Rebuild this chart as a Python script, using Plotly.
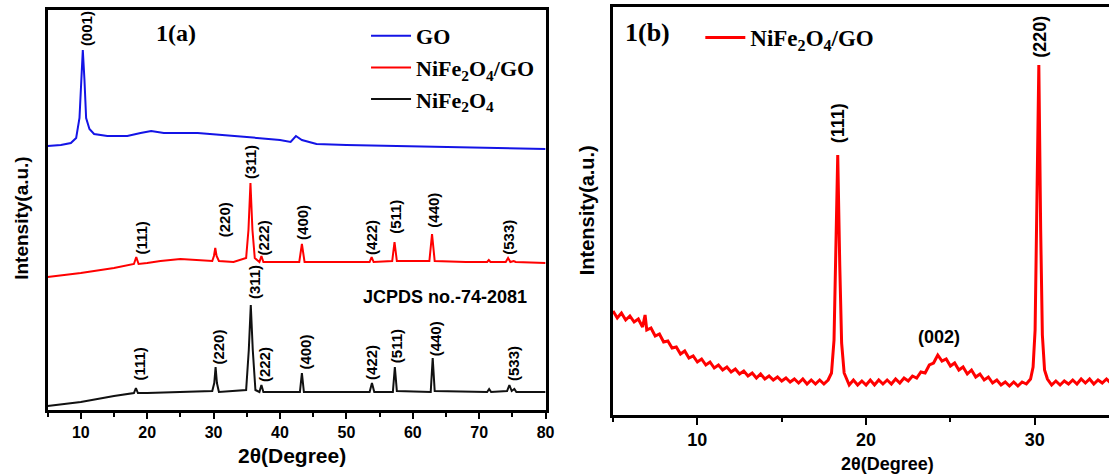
import plotly.graph_objects as go

W, H = 1118, 476

# ---------------- Panel (a) data ----------------
go_x = [5, 7, 8.5, 9.3, 9.8, 10.05, 10.3, 10.55, 10.8, 11.3, 12, 14, 17, 19, 20.6, 22.5, 27.6, 35, 40, 41.6, 42.4, 43.3, 45.5, 50, 57.5, 65, 72, 80]
go_y = [264, 265, 267, 272, 292, 330, 360, 330, 292, 281, 276, 274, 274, 277, 279, 277, 277, 273, 270, 268, 274, 270, 266, 265, 264, 263, 262, 261]

nfgo_x = [5, 10, 15, 18.0, 18.35, 18.7, 20, 22, 25, 28, 29.8, 30.05, 30.25, 30.45, 30.8, 33, 34.9, 35.25, 35.55, 35.85, 36.2, 36.9, 37.2, 37.5, 40, 42.9, 43.3, 43.7, 46, 50, 53.5, 53.8, 54.1, 56.9, 57.25, 57.6, 62.5, 62.9, 63.3, 68, 71.2, 71.45, 71.7, 74.0, 74.35, 74.7, 75.2, 75.5, 80]
nfgo_y = [133, 137, 142, 146, 153, 146, 147, 149, 151, 150, 149, 154, 162, 154, 149, 148, 152, 180, 227, 180, 152, 148, 154, 148, 148, 148, 166, 148, 148, 148, 148, 153, 148, 149, 168, 149, 149, 176, 149, 148, 148, 150, 148, 148, 152, 148, 149, 148, 147]

nf_x = [5, 10, 15, 18.0, 18.3, 18.6, 20, 25, 29.8, 30.1, 30.3, 30.5, 30.8, 34.9, 35.3, 35.6, 35.9, 36.3, 36.9, 37.2, 37.5, 43.0, 43.3, 43.6, 53.5, 53.85, 54.2, 57.0, 57.3, 57.6, 62.7, 63.0, 63.3, 71.2, 71.5, 71.8, 74.2, 74.55, 74.9, 75.3, 75.6, 80]
nf_y = [4, 8, 14, 17, 22, 17, 17, 18, 19, 27, 43, 27, 18, 20, 60, 105, 60, 20, 18, 25, 18, 18, 37, 18, 18, 27, 18, 18, 43, 19, 18, 52, 19, 18, 21, 18, 19, 25, 19, 21, 18, 18]

hkl_labels = ["(111)", "(220)", "(311)", "(222)", "(400)", "(422)", "(511)", "(440)", "(533)"]
nfgo_lbl_x = [19.0, 31.6, 35.5, 37.5, 43.3, 53.7, 57.3, 63.0, 74.3]
nfgo_lbl_y = [172, 190, 248, 172, 188, 173, 193, 200, 173]
nf_lbl_x = [18.7, 30.6, 36.1, 37.6, 43.7, 53.7, 57.5, 63.4, 75.1]
nf_lbl_y = [46, 63, 128, 45, 58, 48, 64, 71, 46]
go_lbl = ["(001)"]
go_lbl_x = [10.8]
go_lbl_y = [381]

# ---------------- Panel (b) data ----------------
b_x = [5.0, 5.25, 5.5, 5.75, 6.0, 6.25, 6.5, 6.75, 6.9, 7.0, 7.25, 7.5, 7.75, 8.0, 8.25, 8.5, 8.75, 9.0, 9.25, 9.5, 9.75,
       10.0, 10.25, 10.5, 10.75, 11.0, 11.25, 11.5, 11.75, 12.0, 12.25, 12.5, 12.75, 13.0, 13.25, 13.5, 13.75,
       14.0, 14.25, 14.5, 14.75, 15.0, 15.25, 15.5, 15.75, 16.0, 16.25, 16.5, 16.75, 17.0, 17.25, 17.5, 17.75,
       17.95, 18.1, 18.2, 18.32, 18.44, 18.55, 18.7, 18.85,
       19.0, 19.25, 19.5, 19.75, 20.0, 20.25, 20.5, 20.75, 21.0, 21.25, 21.5, 21.75, 22.0, 22.25, 22.5, 22.75,
       23.0, 23.25, 23.5, 23.75, 24.0, 24.25, 24.5, 24.75, 25.0, 25.25, 25.5, 25.75, 26.0, 26.25, 26.5, 26.75,
       27.0, 27.25, 27.5, 27.75, 28.0, 28.25, 28.5, 28.75, 29.0, 29.25, 29.5, 29.75,
       29.9, 30.02, 30.12, 30.24, 30.35, 30.45, 30.58, 30.75,
       31.0, 31.25, 31.5, 31.75, 32.0, 32.25, 32.5, 32.75, 33.0, 33.25, 33.5, 33.75, 34.0, 34.25, 34.5]
b_y = [104, 97, 102, 95, 99, 93, 96, 88, 100, 85, 87, 79, 81, 73, 74, 67, 68, 61, 64, 57, 59,
       53, 56, 50, 53, 47, 50, 45, 48, 43, 46, 41, 44, 39, 42, 37, 41,
       36, 39, 35, 38, 34, 37, 33, 36, 32, 36, 31, 35, 31, 35, 31, 35,
       42, 75, 160, 260, 150, 72, 42, 36,
       30, 35, 30, 34, 30, 35, 30, 35, 31, 35, 31, 36, 32, 37, 34, 39,
       37, 43, 42, 50, 52, 60, 54, 56, 49, 52, 45, 48, 41, 45, 38, 41,
       35, 38, 32, 35, 30, 33, 29, 33, 29, 33, 31, 36,
       48, 85, 190, 350, 185, 80, 45, 36,
       30, 34, 30, 34, 31, 35, 31, 36, 32, 36, 31, 35, 32, 36, 32]
b_lbl = ["(111)", "(220)"]
b_lbl_x = [18.35, 30.3]
b_lbl_y = [292, 378]
b_hump_lbl = "(002)"
b_hump_x = 24.35
b_hump_y = 78

BLUE = "#1414e6"
RED = "#ff0000"
BLACK = "#111111"
SANS = "Liberation Sans"
SERIF = "Liberation Serif"

fig = go.Figure()
fig.add_trace(go.Scatter(x=go_x, y=go_y, mode="lines", name="GO", line=dict(color=BLUE, width=2),
                         xaxis="x", yaxis="y", legend="legend", legendgroup="a1"))
fig.add_trace(go.Scatter(x=nfgo_x, y=nfgo_y, mode="lines", name="NiFe<sub>2</sub>O<sub>4</sub>/GO",
                         line=dict(color=RED, width=2), xaxis="x", yaxis="y", legend="legend", legendgroup="a2"))
fig.add_trace(go.Scatter(x=nf_x, y=nf_y, mode="lines", name="NiFe<sub>2</sub>O<sub>4</sub>",
                         line=dict(color=BLACK, width=2), xaxis="x", yaxis="y", legend="legend", legendgroup="a3"))
fig.add_trace(go.Scatter(x=b_x, y=b_y, mode="lines", name="NiFe<sub>2</sub>O<sub>4</sub>/GO",
                         line=dict(color=RED, width=3), xaxis="x2", yaxis="y2", legend="legend2"))

ann = []
def rot(txt, x, y, xr, yr, size):
    ann.append(dict(text="<b>%s</b>" % txt, x=x, y=y, xref=xr, yref=yr, textangle=-90, showarrow=False,
                    xanchor="center", yanchor="middle", font=dict(family=SANS, size=size, color="black")))

for t, x, y in zip(go_lbl, go_lbl_x, go_lbl_y):
    rot(t, x, y, "x", "y", 15)
for t, x, y in zip(hkl_labels, nfgo_lbl_x, nfgo_lbl_y):
    rot(t, x, y, "x", "y", 15)
for t, x, y in zip(hkl_labels, nf_lbl_x, nf_lbl_y):
    rot(t, x, y, "x", "y", 15)
for t, x, y in zip(b_lbl, b_lbl_x, b_lbl_y):
    rot(t, x, y, "x2", "y2", 18)
ann.append(dict(text="<b>%s</b>" % b_hump_lbl, x=b_hump_x, y=b_hump_y, xref="x2", yref="y2", showarrow=False,
                xanchor="center", yanchor="middle", font=dict(family=SANS, size=18, color="black")))
ann.append(dict(text="<b>JCPDS no.-74-2081</b>", x=64.9, y=113, xref="x", yref="y", showarrow=False,
                xanchor="center", yanchor="middle", font=dict(family=SANS, size=18, color="black")))
# panel tags
ann.append(dict(text="<b>1(a)</b>", x=177 / W, y=1 - 33 / H, xref="paper", yref="paper", showarrow=False,
                xanchor="center", yanchor="middle", font=dict(family=SERIF, size=24, color="black")))
ann.append(dict(text="<b>1(b)</b>", x=653 / W, y=1 - 33 / H, xref="paper", yref="paper", showarrow=False,
                xanchor="center", yanchor="middle", font=dict(family=SERIF, size=26, color="black")))
# axis titles
ann.append(dict(text="<b>2θ(Degree)</b>", x=294 / W, y=1 - 455 / H, xref="paper", yref="paper", showarrow=False,
                xanchor="center", yanchor="middle", font=dict(family=SANS, size=21, color="black")))
ann.append(dict(text="<b>2θ(Degree)</b>", x=895 / W, y=1 - 464 / H, xref="paper", yref="paper", showarrow=False,
                xanchor="center", yanchor="middle", font=dict(family=SANS, size=18, color="black")))
ann.append(dict(text="<b>Intensity(a.u.)</b>", x=22 / W, y=1 - 218 / H, xref="paper", yref="paper", showarrow=False,
                textangle=-90, xanchor="center", yanchor="middle", font=dict(family=SANS, size=19, color="black")))
ann.append(dict(text="<b>Intensity(a.u.)</b>", x=592 / W, y=1 - 210 / H, xref="paper", yref="paper", showarrow=False,
                textangle=-90, xanchor="center", yanchor="middle", font=dict(family=SANS, size=20, color="black")))

axis_common = dict(showgrid=False, zeroline=False, showline=True, linecolor="black", linewidth=2.5)

fig.update_layout(
    width=W, height=H, margin=dict(l=0, r=0, t=0, b=0),
    paper_bgcolor="white", plot_bgcolor="white",
    annotations=ann,
    xaxis=dict(domain=[48 / W, 550 / W], range=[5, 80], anchor="y", mirror=True,
               ticks="outside", ticklen=6, tickwidth=2, tickcolor="black", dtick=10, tick0=0,
               minor=dict(ticks="outside", ticklen=4, tickwidth=2, tickcolor="black", dtick=5, tick0=0),
               tickfont=dict(family=SANS, size=16, color="black", weight="bold"), **axis_common),
    yaxis=dict(domain=[1 - 410 / H, 1 - 10 / H], range=[0, 400], anchor="x", mirror=True,
               showticklabels=False, ticks="", **axis_common),
    xaxis2=dict(domain=[618 / W, 1.0], range=[5, 34.4], anchor="y2", mirror=True,
                ticks="outside", ticklen=7, tickwidth=2, tickcolor="black", dtick=10, tick0=0,
                minor=dict(ticks="outside", ticklen=4, tickwidth=2, tickcolor="black", dtick=5, tick0=0),
                tickfont=dict(family=SANS, size=18, color="black", weight="bold"), **axis_common),
    yaxis2=dict(domain=[1 - 415 / H, 1 - 7 / H], range=[0, 408], anchor="x2", mirror=False,
                showticklabels=False, ticks="", **axis_common),
    legend=dict(x=369 / W, y=1 - 15 / H, xanchor="left", yanchor="top", bgcolor="rgba(0,0,0,0)",
                itemwidth=40, font=dict(family=SERIF, size=22, color="black", weight="bold"), tracegroupgap=0),
    legend2=dict(x=706 / W, y=1 - 16 / H, xanchor="left", yanchor="top", bgcolor="rgba(0,0,0,0)",
                 itemwidth=40, font=dict(family=SERIF, size=23, color="black", weight="bold")),
    showlegend=True,
)

fig.write_html("out.html", config={"displayModeBar": False},
               post_script="document.body.style.margin='0';document.body.style.overflow='hidden';")
